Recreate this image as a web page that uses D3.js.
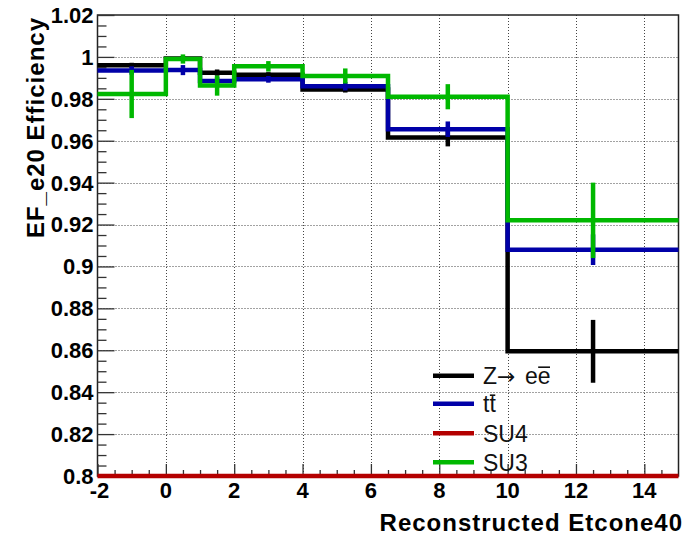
<!DOCTYPE html>
<html>
<head>
<meta charset="utf-8">
<script src="https://cdn.jsdelivr.net/npm/d3@7"></script>
<style>
  html, body { margin: 0; padding: 0; background: #fff; }
  svg { display: block; }
</style>
</head>
<body>
<svg id="chart" width="694" height="537"></svg>
<script>
// Bin edges of the Etcone40 histogram
const binEdges = [-2, 0, 1, 2, 4, 6.5, 10, 15];

// Trigger efficiency per bin and its statistical error
const zeeEff   = [0.9960, 0.9992, 0.9925, 0.9915, 0.9845, 0.9615, 0.8595];
const zeeErr   = [0.0012, 0.0012, 0.0015, 0.0012, 0.0015, 0.0042, 0.0150];
const ttbarEff = [0.9935, 0.9937, 0.9885, 0.9893, 0.9860, 0.9655, 0.9080];
const ttbarErr = [0.0020, 0.0024, 0.0020, 0.0016, 0.0020, 0.0037, 0.0073];
const su4Eff   = [0, 0, 0, 0, 0, 0, 0];
const su4Err   = [0, 0, 0, 0, 0, 0, 0];
const su3Eff   = [0.9823, 0.9990, 0.9863, 0.9955, 0.9909, 0.9810, 0.9220];
const su3Err   = [0.0115, 0.0022, 0.0048, 0.0025, 0.0036, 0.0060, 0.0180];

// Legend entries: label text and index of the character carrying an overbar (-1 = none)
const legendLabels = ["Z\u2192 ee", "tt", "SU4", "SU3"];
const legendBarChar = [4, 1, -1, -1];
const seriesColors = ["#000000", "#0000a8", "#b40000", "#00b800"];

// Axis ticks
const xTickValues = [-2, 0, 2, 4, 6, 8, 10, 12, 14];
const yTickValues = [0.8, 0.82, 0.84, 0.86, 0.88, 0.9, 0.92, 0.94, 0.96, 0.98, 1.0, 1.02];
const yTickLabels = ["0.8", "0.82", "0.84", "0.86", "0.88", "0.9", "0.92", "0.94", "0.96", "0.98", "1", "1.02"];

const xTitle = "Reconstructed Etcone40";
const yTitle = "EF_e20 Efficiency";

const series = [
  { eff: zeeEff, err: zeeErr },
  { eff: ttbarEff, err: ttbarErr },
  { eff: su4Eff, err: su4Err },
  { eff: su3Eff, err: su3Err }
];

const svg = d3.select("#chart");
const frame = { left: 97.5, right: 678.5, top: 15, bottom: 476 };

const x = d3.scaleLinear().domain([-2, 15]).range([frame.left, frame.right]);
const y = d3.scaleLinear().domain([0.8, 1.02]).range([frame.bottom, frame.top]).clamp(true);

const labelFont = "'Liberation Sans', Arial, Helvetica, sans-serif";
const legendFont = "'Liberation Sans Narrow', 'Liberation Sans', Arial, sans-serif";

// Dotted grid
const grid = svg.append("g").attr("stroke", "#444").attr("stroke-width", 1)
  .attr("stroke-dasharray", "1,2").attr("fill", "none");
grid.selectAll("line.gx").data(xTickValues.filter(v => v > -2)).join("line")
  .attr("x1", d => Math.round(x(d)) + 0.5).attr("x2", d => Math.round(x(d)) + 0.5)
  .attr("y1", frame.top).attr("y2", frame.bottom);
grid.selectAll("line.gy").data(yTickValues.filter(v => v > 0.801 && v < 1.019)).join("line")
  .attr("y1", d => Math.round(y(d)) + 0.5).attr("y2", d => Math.round(y(d)) + 0.5)
  .attr("x1", frame.left).attr("x2", frame.right);

// Frame
svg.append("rect")
  .attr("x", frame.left).attr("y", frame.top)
  .attr("width", frame.right - frame.left).attr("height", frame.bottom - frame.top)
  .attr("fill", "none").attr("stroke", "#222").attr("stroke-width", 1.5);

// Y axis (ticks inside the frame)
const yAxis = d3.axisLeft(y)
  .tickValues(d3.range(0, 45).map(i => 0.8 + i * 0.005))
  .tickSize(0).tickFormat("");
const gy = svg.append("g").attr("transform", `translate(${frame.left},0)`).call(yAxis);
gy.select(".domain").remove();
gy.selectAll(".tick line")
  .attr("x1", 0)
  .attr("x2", (d, i) => (i % 4 === 0 ? 17 : 9))
  .attr("stroke", "#333").attr("stroke-width", 1.3);

// Y tick labels
svg.append("g").selectAll("text").data(yTickValues).join("text")
  .attr("x", frame.left - 4)
  .attr("y", d => y(d))
  .attr("dy", "0.36em")
  .attr("text-anchor", "end")
  .attr("font-family", labelFont).attr("font-weight", "bold").attr("font-size", 22)
  .attr("fill", "#000")
  .text((d, i) => yTickLabels[i]);

// X axis (ticks inside the frame)
const xAxis = d3.axisBottom(x)
  .tickValues(d3.range(0, 34).map(i => -2 + i * 0.5))
  .tickSize(0).tickFormat("");
const gx = svg.append("g").attr("transform", `translate(0,${frame.bottom})`).call(xAxis);
gx.select(".domain").remove();
gx.selectAll(".tick line")
  .attr("y1", 0)
  .attr("y2", (d, i) => (i % 4 === 0 ? -12 : -6))
  .attr("stroke", "#333").attr("stroke-width", 1.3);

svg.append("g").selectAll("text").data(xTickValues).join("text")
  .attr("x", d => x(d) + (d < 0 ? 2 : 0))
  .attr("y", 498)
  .attr("text-anchor", "middle")
  .attr("font-family", labelFont).attr("font-weight", "bold").attr("font-size", 22)
  .attr("fill", "#000")
  .text(d => d);

// Axis titles
svg.append("text")
  .attr("x", 683).attr("y", 531)
  .attr("text-anchor", "end")
  .attr("font-family", labelFont).attr("font-weight", "bold").attr("font-size", 24)
  .attr("letter-spacing", 1)
  .attr("fill", "#000")
  .text(xTitle);

svg.append("text")
  .attr("transform", "translate(44,17) rotate(-90)")
  .attr("text-anchor", "end")
  .attr("font-family", labelFont).attr("font-weight", "bold").attr("font-size", 24)
  .attr("letter-spacing", 1)
  .attr("fill", "#000")
  .text(yTitle);

// Histogram outlines with error bars
const stepLine = d3.line()
  .x(d => x(d[0]))
  .y(d => y(d[1]))
  .curve(d3.curveStepAfter);

const plot = svg.append("g");
series.forEach((s, k) => {
  const pts = s.eff.map((v, i) => [binEdges[i], v]);
  pts.push([binEdges[binEdges.length - 1], s.eff[s.eff.length - 1]]);
  const g = plot.append("g");
  g.append("path")
    .attr("d", stepLine(pts))
    .attr("fill", "none")
    .attr("stroke", seriesColors[k])
    .attr("stroke-width", 4.5)
    .attr("stroke-linejoin", "miter");
  g.selectAll("line").data(s.eff.map((v, i) => ({ v, e: s.err[i], c: (binEdges[i] + binEdges[i + 1]) / 2 })))
    .join("line")
    .filter(d => d.e > 0)
    .attr("x1", d => x(d.c)).attr("x2", d => x(d.c))
    .attr("y1", d => y(d.v - d.e)).attr("y2", d => y(d.v + d.e))
    .attr("stroke", seriesColors[k])
    .attr("stroke-width", 4.5);
});

// Legend
const legend = svg.append("g");
const legendRowY = [375.7, 403.7, 433.3, 462.3];
legendLabels.forEach((label, i) => {
  const ly = legendRowY[i];
  legend.append("line")
    .attr("x1", 433).attr("x2", 474)
    .attr("y1", ly).attr("y2", ly)
    .attr("stroke", seriesColors[i]).attr("stroke-width", 4.5);
  const t = legend.append("text")
    .attr("x", 483).attr("y", ly)
    .attr("dy", "0.36em")
    .attr("font-family", legendFont)
    .attr("font-size", 23)
    .attr("fill", "#111");
  // the arrow is set in a font with a wide arrow glyph, followed by a wider gap
  label.split(/(\u2192)/).forEach((part, j, parts) => {
    if (!part) return;
    const ts = t.append("tspan").text(part);
    if (part === "\u2192") {
      ts.attr("font-family", "'DejaVu Sans', sans-serif").attr("font-size", 22);
    } else if (j > 0 && parts[j - 1] === "\u2192") {
      ts.attr("dx", 3);
    }
  });
  const bi = legendBarChar[i];
  if (bi >= 0) {
    const node = t.node();
    const x0 = node.getStartPositionOfChar(bi).x;
    const x1 = node.getEndPositionOfChar(bi).x;
    legend.append("line")
      .attr("x1", x0 + 0.5).attr("x2", x1 - 0.5)
      .attr("y1", ly - 8.5).attr("y2", ly - 8.5)
      .attr("stroke", "#111").attr("stroke-width", 1.6);
  }
});
</script>
</body>
</html>
